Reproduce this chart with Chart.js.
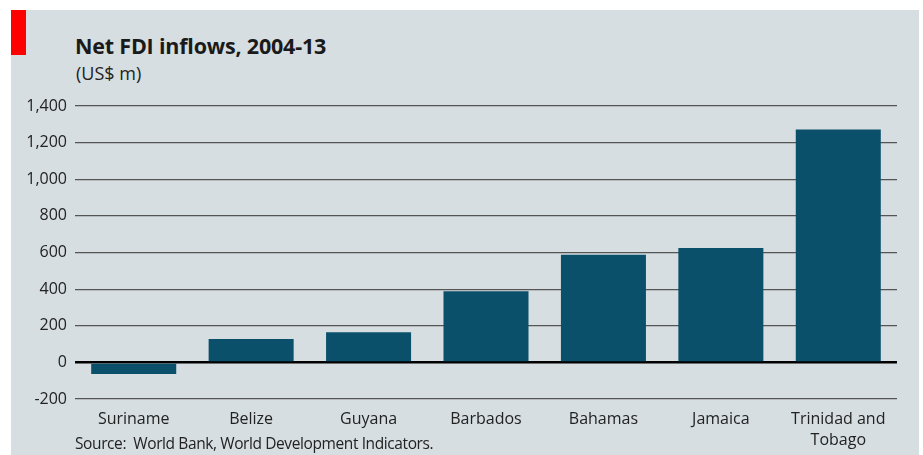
<!DOCTYPE html>
<html>
<head>
<meta charset="utf-8">
<script src="https://cdn.jsdelivr.net/npm/chart.js@4/dist/chart.umd.min.js"></script>
<style>
  body { margin:0; background:#fff; width:923px; height:455px; overflow:hidden; position:relative; font-family:"Open Sans", sans-serif; }
  #panel { position:absolute; left:11px; top:10px; width:908px; height:445px; background:#d6dee1; }
  #tag { position:absolute; left:11px; top:10px; width:15px; height:45px; background:#f00; }
  #title { position:absolute; left:75px; top:31px; font-size:21.5px; font-weight:bold; color:#1a1a1a; letter-spacing:-0.2px; }
  #unit { position:absolute; left:76px; top:61px; font-size:18px; color:#222; }
  #source { position:absolute; left:75px; top:432px; font-size:15.5px; color:#222; white-space:pre; letter-spacing:-0.4px; }
  #wrap { position:absolute; left:0; top:0; width:923px; height:455px; }
</style>
</head>
<body>
<div id="panel"></div>
<div id="tag"></div>
<div id="title">Net FDI inflows, 2004-13</div>
<div id="unit">(US$ m)</div>
<div id="wrap"><canvas id="chart"></canvas></div>
<div id="source">Source:  World Bank, World Development Indicators.</div>
<script>
const countries = ["Suriname", "Belize", "Guyana", "Barbados", "Bahamas", "Jamaica", ["Trinidad and", "Tobago"]];
const fdi = [-64, 127, 164, 389, 588, 625, 1271];
const yTicks = [-200, 0, 200, 400, 600, 800, 1000, 1200, 1400];

new Chart(document.getElementById("chart"), {
    type: "bar",
    data: {
        labels: countries,
        datasets: [{ data: fdi, backgroundColor: "#0b506b", categoryPercentage: 0.724, barPercentage: 1 }]
    },
    options: {
        responsive: true,
        maintainAspectRatio: false,
        animation: false,
        layout: { padding: { top: 106, right: 26, bottom: 0, left: 0 } },
        plugins: { legend: { display: false }, tooltip: { enabled: false } },
        scales: {
            x: {
                grid: { display: false },
                border: { display: false },
                ticks: { color: "#222", font: { family: "Open Sans", size: 16, lineHeight: 1.3 }, padding: 2, maxRotation: 0 },
                afterFit: s => { s.height = 56; }
            },
            y: {
                min: yTicks[0],
                max: yTicks[yTicks.length - 1],
                afterBuildTicks: s => { s.ticks = yTicks.map(v => ({ value: v })); },
                afterFit: s => { s.width = 75; },
                border: { display: false },
                grid: {
                    drawTicks: false,
                    color: c => c.tick && c.tick.value === 0 ? "#000" : "#555",
                    lineWidth: c => c.tick && c.tick.value === 0 ? 2.5 : 1.2
                },
                ticks: {
                    color: "#222",
                    padding: 8,
                    font: { family: "Open Sans", size: 16 },
                    callback: v => v.toLocaleString("en-US")
                }
            }
        }
    }
});
</script>
</body>
</html>
